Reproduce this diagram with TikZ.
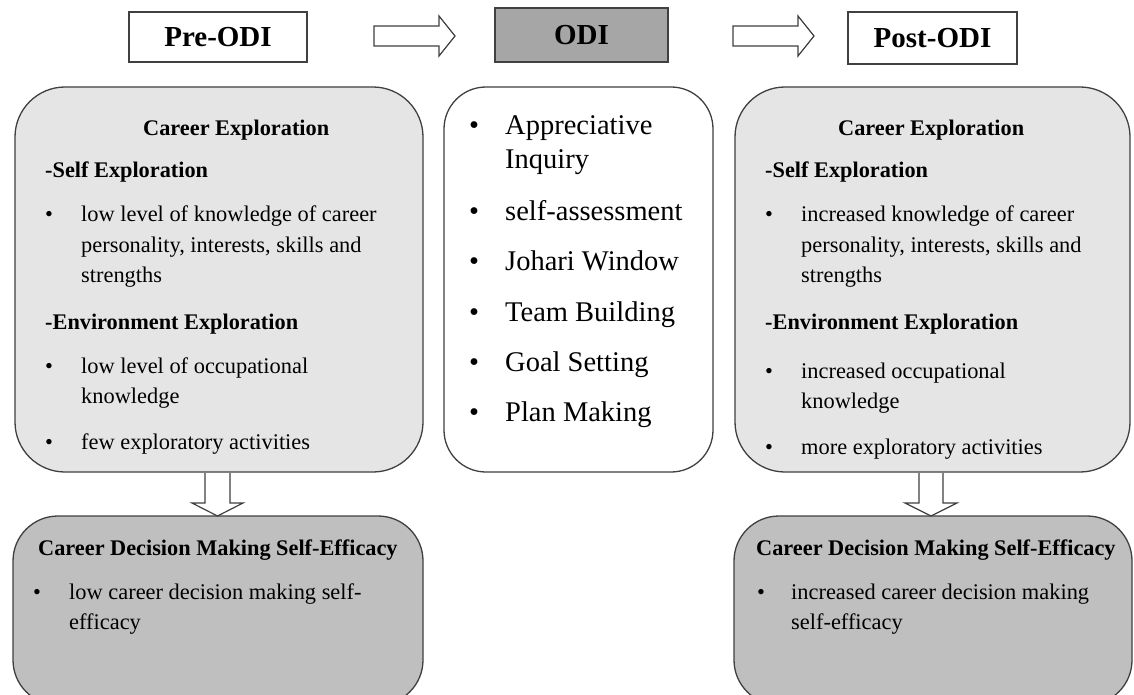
\documentclass[tikz,border=0pt]{standalone}
\usepackage{fontspec}
\setmainfont{Liberation Serif}
\begin{document}
\begin{tikzpicture}[x=1pt,y=-1pt,
  edge/.style={draw=black!75,line width=1.3pt},
  topbox/.style={edge,rectangle,inner sep=0pt,font=\fontsize{29}{34}\selectfont\bfseries},
  bigbox/.style={edge,rectangle,rounded corners=50pt,inner sep=0pt},
  lowbox/.style={edge,rectangle,rounded corners=45pt,inner sep=0pt,fill=black!25},
  blockarrow/.style={draw=black!75,line width=1.2pt,fill=white,line join=miter},
  txt/.style={anchor=base west,inner sep=0pt,font=\fontsize{22.4}{26}\selectfont},
  btxt/.style={anchor=base west,inner sep=0pt,font=\fontsize{22.3}{26}\selectfont\bfseries},
  mtxt/.style={anchor=base west,inner sep=0pt,font=\fontsize{28.5}{32}\selectfont},
]
\useasboundingbox (0,0) rectangle (1134,695);
\clip (0,0) rectangle (1134,695);
\fill[white] (0,0) rectangle (1134,695);

% top boxes
\node[topbox,fill=white,minimum width=178pt,minimum height=50pt] (pre) at (218,37) {Pre-ODI};
\node[topbox,fill=black!35,minimum width=173pt,minimum height=54pt] (odi) at (581.5,35) {\raisebox{-1pt}{ODI}};
\node[topbox,fill=white,minimum width=169pt,minimum height=52pt] (post) at (932.5,38) {Post-ODI};

% block arrows between top boxes
\draw[blockarrow] (374,26) -- (439,26) -- (439,16) -- (455,36) -- (439,56) -- (439,46) -- (374,46) -- cycle;
\draw[blockarrow] (733,26) -- (798,26) -- (798,16) -- (814,36) -- (798,56) -- (798,46) -- (733,46) -- cycle;

% big boxes
\node[bigbox,fill=black!10,minimum width=408pt,minimum height=385pt] (lce) at (219,279.5) {};
\node[bigbox,fill=white,rounded corners=42pt,minimum width=269pt,minimum height=385pt] (mid) at (578.5,279.5) {};
\node[bigbox,fill=black!10,minimum width=395pt,minimum height=385pt] (rce) at (932.5,279.5) {};

% bottom boxes
\node[lowbox,minimum width=410pt,minimum height=189pt] (lcd) at (218,610.5) {};
\node[lowbox,minimum width=398pt,minimum height=189pt] (rcd) at (933,610.5) {};

% down arrows
\draw[blockarrow] (205,473) -- (205,503) -- (192,503) -- (217.5,516) -- (243,503) -- (230,503) -- (230,473);
\draw[blockarrow] (919,473) -- (919,503) -- (905,503) -- (931,516) -- (957,503) -- (943,503) -- (943,473);

% left box text
\node[btxt] (l1) at (143,136) {Career Exploration};
\node[btxt] (l2) at (45,178) {-Self Exploration};
\node[txt] (lb1) at (45,221) {•};
\node[txt] (l3) at (81,221) {low level of knowledge of career};
\node[txt] (l4) at (81,252) {personality, interests, skills and};
\node[txt] (l5) at (81,282) {strengths};
\node[btxt] (l6) at (45,329) {-Environment Exploration};
\node[txt] (lb2) at (45,373) {•};
\node[txt] (l7) at (81,373) {low level of occupational};
\node[txt] (l8) at (81,403) {knowledge};
\node[txt] (lb3) at (45,449) {•};
\node[txt] (l9) at (81,449) {few exploratory activities};

% middle box text
\node[mtxt] (mb1) at (469,135) {•};
\node[mtxt] (m1) at (505,135) {Appreciative};
\node[mtxt] (m1b) at (505,169) {Inquiry};
\node[mtxt] (mb2) at (469,220) {•};
\node[mtxt] (m2) at (505,220) {self-assessment};
\node[mtxt] (mb3) at (469,270) {•};
\node[mtxt] (m3) at (505,270) {Johari Window};
\node[mtxt] (mb4) at (469,321) {•};
\node[mtxt] (m4) at (505,321) {Team Building};
\node[mtxt] (mb5) at (469,371) {•};
\node[mtxt] (m5) at (505,371) {Goal Setting};
\node[mtxt] (mb6) at (469,421) {•};
\node[mtxt] (m6) at (505,421) {Plan Making};

% right box text
\node[btxt] (r1) at (838,136) {Career Exploration};
\node[btxt] (r2) at (765,178) {-Self Exploration};
\node[txt] (rb1) at (765,221) {•};
\node[txt] (r3) at (801,221) {increased knowledge of career};
\node[txt] (r4) at (801,252) {personality, interests, skills and};
\node[txt] (r5) at (801,282) {strengths};
\node[btxt] (r6) at (765,329) {-Environment Exploration};
\node[txt] (rb2) at (765,378) {•};
\node[txt] (r7) at (801,378) {increased occupational};
\node[txt] (r8) at (801,408) {knowledge};
\node[txt] (rb3) at (765,454) {•};
\node[txt] (r9) at (801,454) {more exploratory activities};

% bottom left text
\node[btxt] (bl1) at (38,555) {Career Decision Making Self-Efficacy};
\node[txt] (blb) at (33,599) {•};
\node[txt] (bl2) at (69,599) {low career decision making self-};
\node[txt] (bl3) at (69,629) {efficacy};

% bottom right text
\node[btxt] (br1) at (756,555) {Career Decision Making Self-Efficacy};
\node[txt] (brb) at (757,599) {•};
\node[txt] (br2) at (791,599) {increased career decision making};
\node[txt] (br3) at (791,629) {self-efficacy};
\end{tikzpicture}
\end{document}
